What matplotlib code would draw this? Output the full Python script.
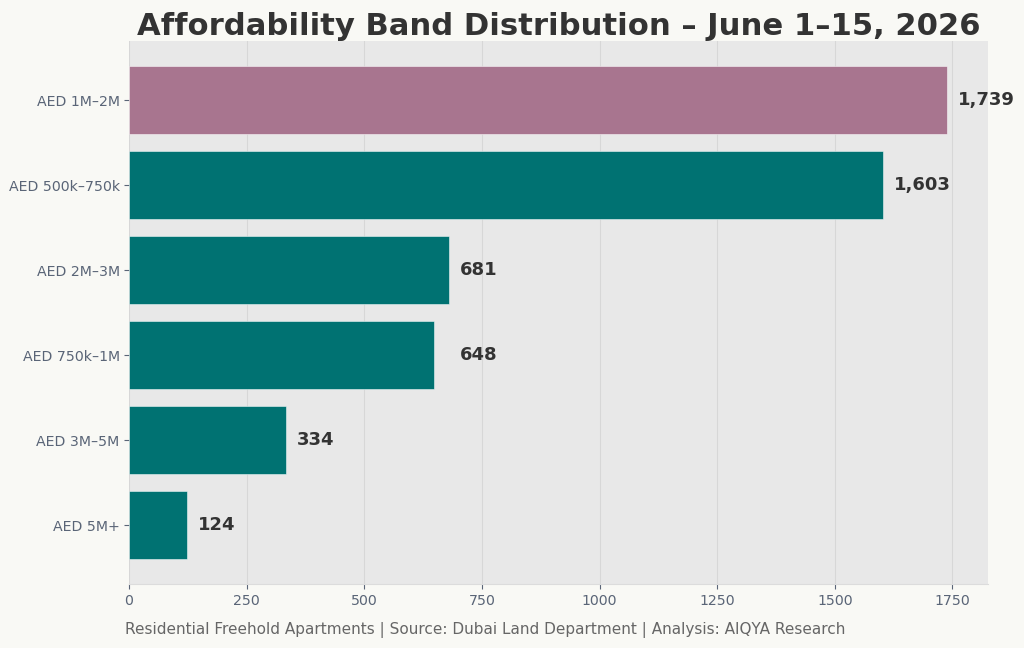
import matplotlib.pyplot as plt

bands = ["AED 1M–2M", "AED 500k–750k", "AED 2M–3M", "AED 750k–1M", "AED 3M–5M", "AED 5M+"]
counts = [1739, 1603, 681, 648, 334, 124]
colors = ["#a8758f", "#007272", "#007272", "#007272", "#007272", "#007272"]

fig, ax = plt.subplots(figsize=(10.24, 6.48), dpi=100)
fig.patch.set_facecolor("#f9f9f5")
ax.set_facecolor("#e8e8e8")

y = list(range(len(bands)))
bars = ax.barh(y, counts, height=0.8, color=colors, edgecolor=(1, 1, 1, 0.5), linewidth=0.7, zorder=2)
ax.invert_yaxis()
ax.set_yticks(y)
ax.set_yticklabels(bands)

# labels: keep a label level with the one above when the bars are close in length
label_x = []
for i, v in enumerate(counts):
    x = v
    if i > 0 and counts[i - 1] - v < 0.06 * counts[i - 1]:
        x = counts[i - 1]
    label_x.append(x)

for b, v, lx in zip(bars, counts, label_x):
    ax.text(lx + 22, b.get_y() + b.get_height() / 2, f"{v:,}", va="center", ha="left",
            fontsize=13, fontweight="bold", color="#333333", zorder=4)

ax.set_xlim(0, max(counts) * 1.05)
ax.grid(axis="x", color="#b8b8b8", alpha=0.35, linewidth=0.8, zorder=3)
for s in ["top", "right", "left"]:
    ax.spines[s].set_visible(False)
ax.spines["bottom"].set_color("#dcdcdc")
ax.tick_params(axis="both", colors="#5a6577", labelsize=10.2)
ax.tick_params(axis="both", color="#5a6577", length=3.5)
ax.tick_params(axis="y", pad=3.2)

ax.set_title("Affordability Band Distribution – June 1–15, 2026", fontsize=22.1, fontweight="bold",
             color="#333333", pad=4)
fig.text(0.474, 0.022, "Residential Freehold Apartments | Source: Dubai Land Department | Analysis: AIQYA Research",
         ha="center", fontsize=11, color="#666666")

plt.subplots_adjust(left=0.126, right=0.965, top=0.936, bottom=0.099)
plt.savefig("out.png", dpi=100, facecolor=fig.get_facecolor())
